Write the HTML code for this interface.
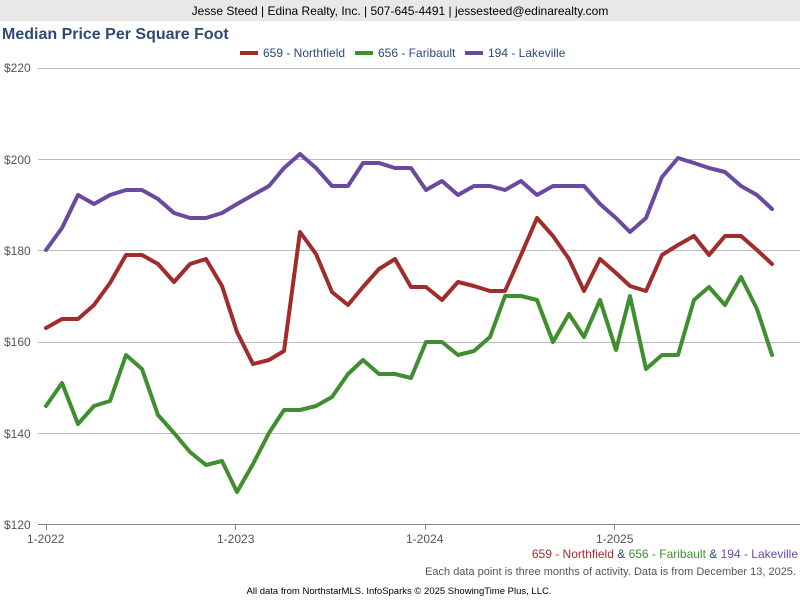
<!DOCTYPE html>
<html><head><meta charset="utf-8"><style>
body{margin:0;width:800px;height:600px;background:#fff;font-family:"Liberation Sans",sans-serif;overflow:hidden;position:relative}
.hdr{position:absolute;left:0;top:0;width:800px;height:21px;background:#e8e8e8;font-size:12px;text-align:center;line-height:22px;color:#000}
</style></head><body>
<div class="hdr">Jesse Steed | Edina Realty, Inc. | 507-645-4491 | jessesteed@edinarealty.com</div>
<svg width="800" height="600" style="position:absolute;left:0;top:0" font-family="Liberation Sans, sans-serif">
<text x="2" y="39" font-size="16" font-weight="bold" fill="#2c4a78">Median Price Per Square Foot</text>
<g font-size="12" fill="#2c4a78">
<rect x="240" y="51" width="18" height="4" fill="#a02c2c"/><text x="263" y="57">659 - Northfield</text>
<rect x="355" y="51" width="18" height="4" fill="#3f8f2f"/><text x="378" y="57">656 - Faribault</text>
<rect x="465" y="51" width="18" height="4" fill="#6a4a9e"/><text x="488" y="57">194 - Lakeville</text>
</g>
<g stroke="#bbb" stroke-width="1">
<line x1="38" y1="68.5" x2="800" y2="68.5"/><line x1="38" y1="159.5" x2="800" y2="159.5"/>
<line x1="38" y1="250.5" x2="800" y2="250.5"/><line x1="38" y1="342.5" x2="800" y2="342.5"/>
<line x1="38" y1="433.5" x2="800" y2="433.5"/>
</g>
<line x1="38" y1="524.5" x2="800" y2="524.5" stroke="#888"/>
<g stroke="#888"><line x1="46.5" y1="524" x2="46.5" y2="530"/><line x1="235.5" y1="524" x2="235.5" y2="530"/><line x1="425.5" y1="524" x2="425.5" y2="530"/><line x1="614.5" y1="524" x2="614.5" y2="530"/></g>
<g font-size="12" fill="#555">
<text x="4" y="72">$220</text><text x="4" y="164">$200</text><text x="4" y="255">$180</text><text x="4" y="346">$160</text><text x="4" y="438">$140</text><text x="4" y="529">$120</text>
<text x="27" y="543">1-2022</text><text x="217" y="543">1-2023</text><text x="406" y="543">1-2024</text><text x="596" y="543">1-2025</text>
</g>
<g fill="none" stroke-width="4" stroke-linejoin="round" stroke-linecap="round">
<polyline stroke="#6a4a9e" points="46,250 62,228 78,195 94,204 110,195 126,190 142,190 158,199 174,213 190,218 206,218 222,213 237,204 253,195 269,186 284,168 300,154 316,168 332,186 348,186 363,163 379,163 395,168 411,168 426,190 442,181 458,195 474,186 490,186 505,190 521,181 537,195 553,186 569,186 584,186 600,204 616,218 630,232 646,218 662,177 678,158 694,163 709,168 725,172 741,186 757,195 772,209"/>
<polyline stroke="#a02c2c" points="46,328 62,319 78,319 94,305 110,283 126,255 142,255 158,264 174,282 190,264 206,259 222,286 237,332 253,364 269,360 284,351 300,232 316,254 332,292 348,305 363,287 379,269 395,259 411,287 426,287 442,300 458,282 474,286 490,291 505,291 521,255 537,218 553,236 569,259 584,291 600,259 616,273 630,286 646,291 662,255 678,245 694,236 709,255 725,236 741,236 757,250 772,264"/>
<polyline stroke="#3f8f2f" points="46,406 62,383 78,424 94,406 110,401 126,355 142,369 158,415 174,433 190,452 206,465 222,461 237,492 253,464 269,433 284,410 300,410 316,406 332,397 348,374 363,360 379,374 395,374 411,378 426,342 442,342 458,355 474,351 490,337 505,296 521,296 537,300 553,342 569,314 584,337 600,300 616,350 630,296 646,369 662,355 678,355 694,300 709,287 725,305 741,277 757,309 772,355"/>
</g>
<text x="798" y="558" font-size="12" text-anchor="end"><tspan fill="#a02c2c">659 - Northfield</tspan><tspan fill="#2c4a78"> &amp; </tspan><tspan fill="#3f8f2f">656 - Faribault</tspan><tspan fill="#2c4a78"> &amp; </tspan><tspan fill="#6a4a9e">194 - Lakeville</tspan></text>
<text x="796" y="575" font-size="11" fill="#555" text-anchor="end">Each data point is three months of activity. Data is from December 13, 2025.</text>
<text x="399" y="594" font-size="9.5" fill="#000" text-anchor="middle">All data from NorthstarMLS. InfoSparks © 2025 ShowingTime Plus, LLC.</text>
</svg>
</body></html>
